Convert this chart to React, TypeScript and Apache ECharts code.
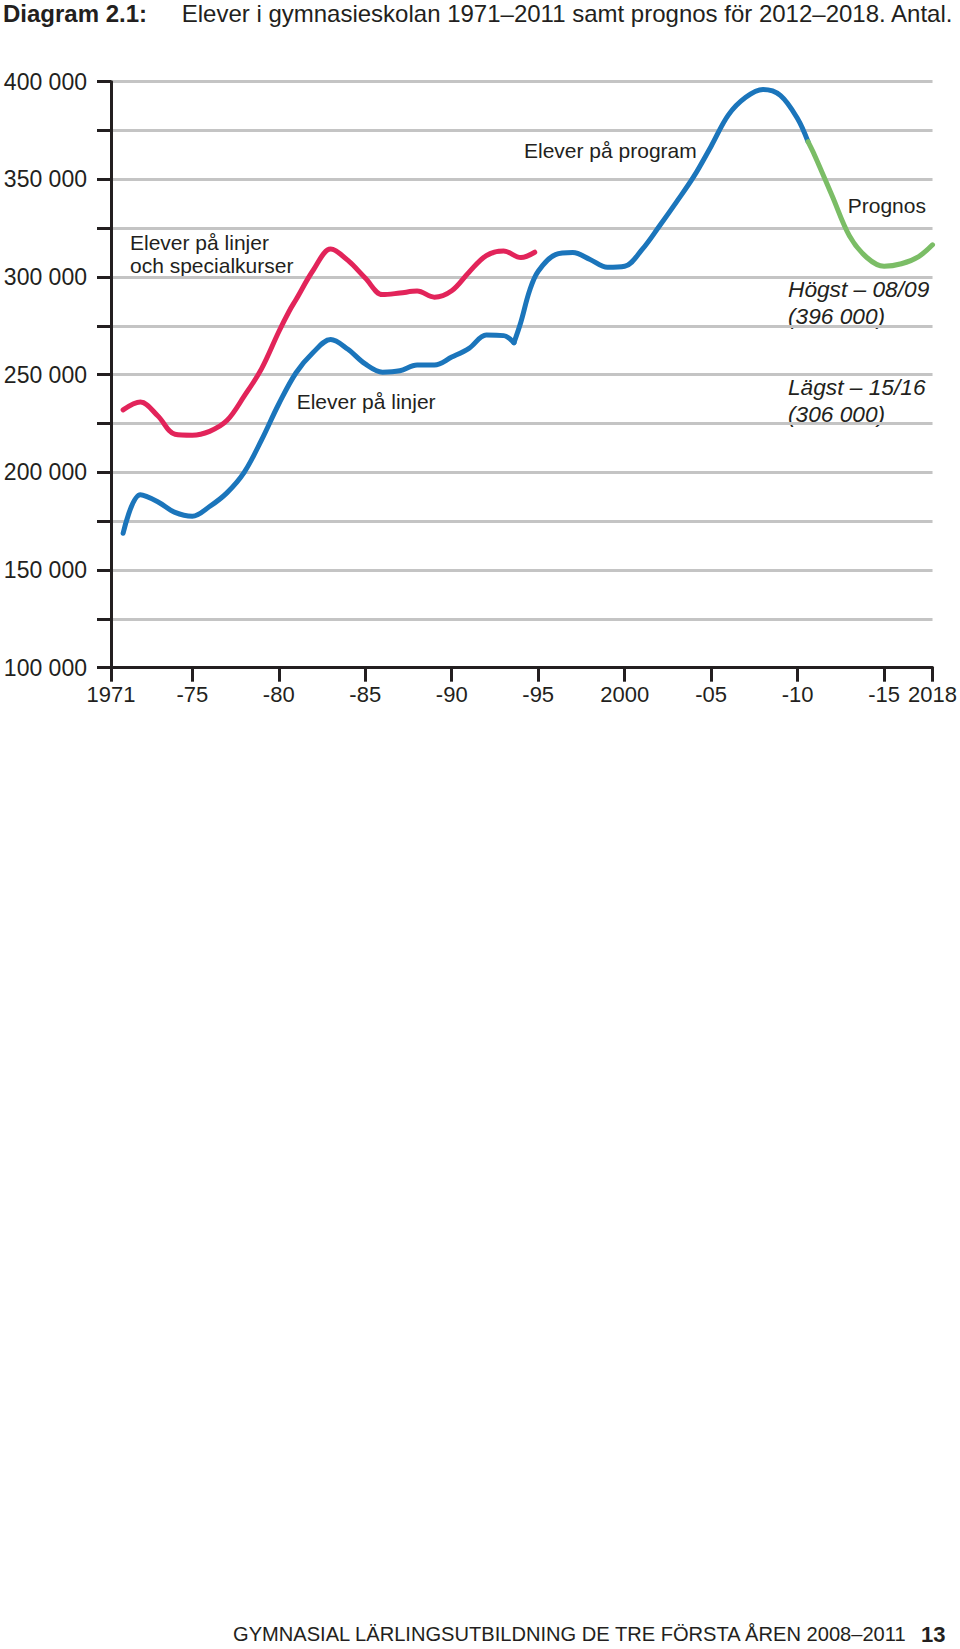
import React, { useEffect, useRef } from "react";
import * as echarts from "echarts";

// Elever på linjer (blå, 1971–1994)
const linjerYears = [1971, 1972, 1973, 1974, 1975, 1976, 1977, 1978, 1979, 1980, 1981, 1982, 1983, 1984, 1985, 1986, 1987, 1988, 1989, 1990, 1991, 1992, 1993, 1993.6];
const linjerValues = [168800, 188500, 185000, 179500, 177500, 182500, 189500, 200000, 216500, 235000, 251000, 261500, 268000, 263000, 255500, 251300, 252000, 255000, 255000, 259000, 263500, 270300, 270000, 266400];

// Elever på linjer och specialkurser (röd)
const specYears = [1971, 1972, 1973, 1974, 1975, 1976, 1977, 1978, 1979, 1980, 1980.6, 1981, 1982, 1983, 1984, 1985, 1986, 1987, 1988, 1989, 1990, 1991, 1992, 1993, 1994, 1994.8];
const specValues = [232000, 236000, 229000, 219500, 219000, 221000, 226500, 239000, 253000, 272000, 282500, 288500, 303600, 314300, 308500, 299500, 291000, 291800, 292800, 289700, 293000, 302500, 311000, 313300, 310000, 312700];

// Elever på program (blå)
const programYears = [1993.6, 1994, 1994.5, 1995, 1996, 1997, 1998, 1999, 2000, 2001, 2002, 2003, 2004, 2005, 2006, 2007, 2008, 2009, 2010, 2010.6];
const programValues = [266400, 277000, 293000, 303000, 311500, 312500, 309000, 305000, 305500, 314000, 326000, 338500, 351500, 367000, 383000, 392000, 396000, 393000, 381000, 369300];

// Prognos (grön)
const prognosYears = [2010.6, 2011, 2012, 2013, 2014, 2015, 2016, 2017, 2017.8];
const prognosValues = [369300, 362000, 341500, 321000, 310000, 305500, 306800, 310500, 316500];

// Axis ticks
const xTickValues = [1970.3, 1975, 1980, 1985, 1990, 1995, 2000, 2005, 2010, 2015, 2017.8];
const xTickLabels = ["1971", "-75", "-80", "-85", "-90", "-95", "2000", "-05", "-10", "-15", "2018"];

const RED = "#e2245a";
const BLUE = "#1b75bb";
const GREEN = "#7bbd66";
const INK = "#231f20";
const FONT = "'Liberation Sans', Arial, sans-serif";

const zip = (xs: number[], ys: number[]) => xs.map((x, i) => [x, ys[i]]);

function fmtThousands(v: number) {
  return String(v).replace(/\B(?=(\d{3})+(?!\d))/g, " ");
}

export default function App() {
  const ref = useRef<HTMLDivElement>(null);

  useEffect(() => {
    const chart = echarts.init(ref.current!, null, { renderer: "svg" });

    const txt = (x: number, y: number, text: string, extra: any = {}) => ({
      type: "text",
      x,
      y,
      silent: true,
      style: {
        text,
        fill: INK,
        fontFamily: FONT,
        fontSize: 21,
        verticalAlign: "middle",
        align: "left",
        ...extra,
      },
    });

    const lineSeries = (name: string, data: number[][], color: string) => ({
      name,
      type: "line",
      data,
      smooth: 0.35,
      symbol: "none",
      lineStyle: { color, width: 5, cap: "round", join: "round" },
      z: 3,
    });

    chart.setOption({
      animation: false,
      backgroundColor: "#ffffff",
      grid: { left: 111, right: 27, top: 81.7, bottom: 981.3, containLabel: false },
      xAxis: {
        type: "value",
        min: 1970.3,
        max: 2017.8,
        axisLine: { show: true, lineStyle: { color: INK, width: 3 } },
        axisTick: { show: true, customValues: xTickValues, length: 14, lineStyle: { color: INK, width: 3 } },
        axisLabel: {
          show: true,
          customValues: xTickValues,
          margin: 16,
          fontSize: 22,
          fontFamily: FONT,
          color: INK,
          formatter: (v: number) => {
            let best = 0;
            for (let i = 1; i < xTickValues.length; i++) {
              if (Math.abs(xTickValues[i] - v) < Math.abs(xTickValues[best] - v)) best = i;
            }
            return xTickLabels[best];
          },
        },
        splitLine: { show: false },
      },
      yAxis: {
        type: "value",
        min: 100000,
        max: 400000,
        interval: 25000,
        axisLine: { show: true, lineStyle: { color: INK, width: 3 } },
        axisTick: { show: true, length: 14, lineStyle: { color: INK, width: 3 } },
        axisLabel: {
          margin: 24,
          fontSize: 23,
          fontFamily: FONT,
          color: INK,
          formatter: (v: number) => (v % 50000 === 0 ? fmtThousands(v) : ""),
        },
        splitLine: { show: true, lineStyle: { color: "#c4c4c4", width: 3 } },
      },
      series: [
        lineSeries("Elever på linjer och specialkurser", zip(specYears, specValues), RED),
        lineSeries("Elever på linjer", zip(linjerYears, linjerValues), BLUE),
        lineSeries("Elever på program", zip(programYears, programValues), BLUE),
        lineSeries("Prognos", zip(prognosYears, prognosValues), GREEN),
      ],
      graphic: [
        txt(3, 13, "Diagram 2.1:", { fontSize: 24, fontWeight: "bold" }),
        txt(181.7, 13, "Elever i gymnasieskolan 1971–2011 samt prognos för 2012–2018. Antal.", { fontSize: 24 }),
        txt(130, 242.7, "Elever på linjer"),
        txt(130, 265, "och specialkurser"),
        txt(296.7, 401.7, "Elever på linjer"),
        txt(524, 150, "Elever på program"),
        txt(847.7, 205, "Prognos"),
        txt(788, 289, "Högst – 08/09", { fontStyle: "italic", fontSize: 22.7 }),
        txt(788, 316, "(396 000)", { fontStyle: "italic", fontSize: 22.7 }),
        txt(788, 386.7, "Lägst – 15/16", { fontStyle: "italic", fontSize: 22.7 }),
        txt(788, 414, "(306 000)", { fontStyle: "italic", fontSize: 22.7 }),
        txt(233, 1634, "GYMNASIAL LÄRLINGSUTBILDNING DE TRE FÖRSTA ÅREN 2008–2011", { fontSize: 20.1 }),
        txt(921, 1634, "13", { fontSize: 22, fontWeight: "bold" }),
      ],
    });

    return () => chart.dispose();
  }, []);

  return (
    <div
      ref={ref}
      style={{ position: "absolute", left: 0, top: 0, width: 960, height: 1649, background: "#ffffff" }}
    />
  );
}
